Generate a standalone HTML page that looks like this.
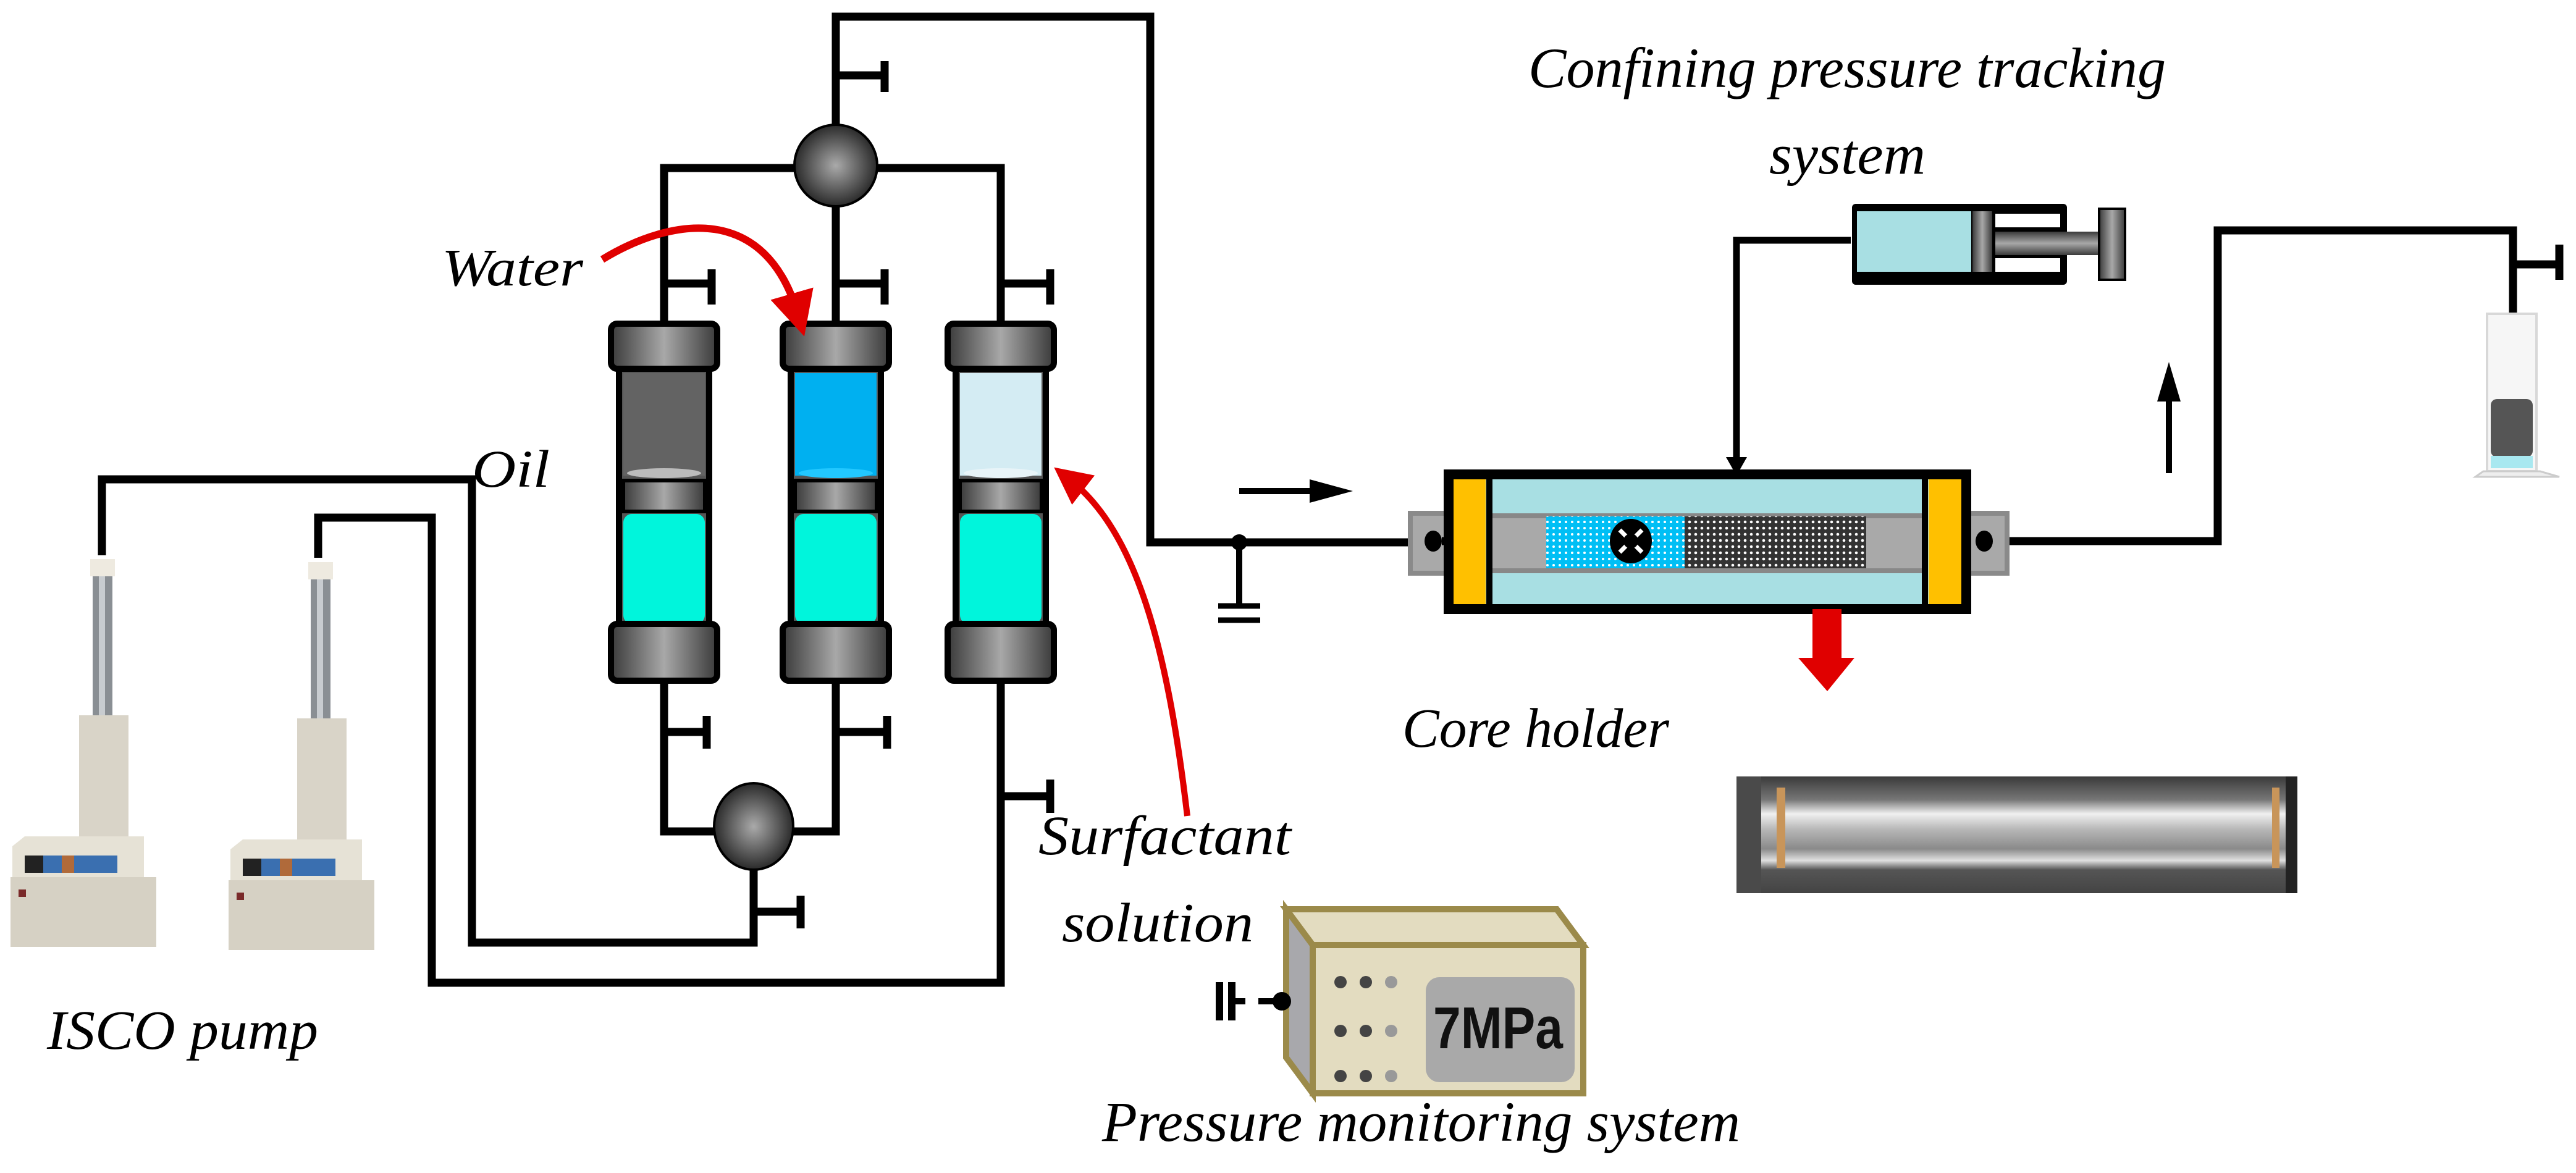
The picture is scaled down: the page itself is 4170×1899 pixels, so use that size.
<!DOCTYPE html>
<html><head><meta charset="utf-8"><style>html,body{margin:0;padding:0;background:#fff}svg{display:block}</style></head>
<body>
<svg width="4170" height="1899" viewBox="0 0 4170 1899" xmlns="http://www.w3.org/2000/svg">
<defs>
<linearGradient id="cap" x1="0" x2="1" y1="0" y2="0"><stop offset="0" stop-color="#3a3a3a"/><stop offset="0.5" stop-color="#a8a8a8"/><stop offset="1" stop-color="#3a3a3a"/></linearGradient>
<linearGradient id="capv" x1="0" x2="0" y1="0" y2="1"><stop offset="0" stop-color="#3a3a3a"/><stop offset="0.5" stop-color="#a8a8a8"/><stop offset="1" stop-color="#3a3a3a"/></linearGradient>
<radialGradient id="ball" cx="0.5" cy="0.5" r="0.5"><stop offset="0" stop-color="#aaa"/><stop offset="1" stop-color="#2a2a2a"/></radialGradient>
<pattern id="bdot" width="10" height="10" patternUnits="userSpaceOnUse"><rect width="10" height="10" fill="#00bff5"/><circle cx="5" cy="5" r="2" fill="#fff"/></pattern>
<pattern id="kdot" width="10" height="10" patternUnits="userSpaceOnUse"><rect width="10" height="10" fill="#333"/><circle cx="5" cy="5" r="2.3" fill="#fff"/></pattern>
<linearGradient id="photo" x1="0" x2="0" y1="0" y2="1"><stop offset="0" stop-color="#3a3a3a"/><stop offset="0.2" stop-color="#777"/><stop offset="0.32" stop-color="#f0f0f0"/><stop offset="0.45" stop-color="#b8b8b8"/><stop offset="0.62" stop-color="#8a8a8a"/><stop offset="0.72" stop-color="#e0e0e0"/><stop offset="0.8" stop-color="#555"/><stop offset="1" stop-color="#444"/></linearGradient>
<marker id="ra" markerWidth="6" markerHeight="6" refX="3" refY="3" orient="auto" markerUnits="strokeWidth"><path d="M0,0 L6,3 L0,6 z" fill="#e00000"/></marker>
</defs>

<g fill="none" stroke="#000" stroke-width="13" stroke-linejoin="miter">
<polyline points="1353,268 1353,27 1862,27 1862,878 2320,878"/>
<line x1="1353" y1="122" x2="1432" y2="122"/><line x1="1432" y1="99" x2="1432" y2="149"/>
<polyline points="1075,524 1075,272 1620,272 1620,524"/>
<line x1="1353" y1="272" x2="1353" y2="524"/>
<line x1="1075" y1="459" x2="1152" y2="459"/><line x1="1152" y1="436" x2="1152" y2="493"/>
<line x1="1353" y1="459" x2="1432" y2="459"/><line x1="1432" y1="436" x2="1432" y2="493"/>
<line x1="1620" y1="459" x2="1700" y2="459"/><line x1="1700" y1="436" x2="1700" y2="493"/>
<polyline points="1075,1102 1075,1346 1353,1346 1353,1102"/>
<line x1="1075" y1="1185" x2="1144" y2="1185"/><line x1="1144" y1="1159" x2="1144" y2="1212"/>
<line x1="1353" y1="1185" x2="1436" y2="1185"/><line x1="1436" y1="1159" x2="1436" y2="1212"/>
<polyline points="165,899 165,776 764,776 764,1526 1220,1526 1220,1338"/>
<line x1="1220" y1="1476" x2="1296" y2="1476"/><line x1="1296" y1="1450" x2="1296" y2="1503"/>
<polyline points="515,903 515,838 699,838 699,1591 1620,1591 1620,1102"/>
<line x1="1620" y1="1289" x2="1700" y2="1289"/><line x1="1700" y1="1262" x2="1700" y2="1316"/>
<polyline points="3212,876 3590,876 3590,373 4068,373 4068,508"/>
<line x1="4068" y1="428" x2="4143" y2="428"/><line x1="4143" y1="396" x2="4143" y2="453"/>
<polyline points="2996,389 2811,389 2811,745" stroke-width="11"/>
<line x1="2006" y1="878" x2="2006" y2="981" stroke-width="10"/>
<line x1="1972" y1="981" x2="2040" y2="981" stroke-width="9"/>
<line x1="1972" y1="1004" x2="2040" y2="1004" stroke-width="9"/>
<line x1="2006" y1="795" x2="2140" y2="795" stroke-width="10"/>
<line x1="3511" y1="766" x2="3511" y2="640" stroke-width="10"/>
</g>
<polygon points="2120,776 2190,795 2120,814" fill="#000"/>
<polygon points="3492,650 3511,586 3530,650" fill="#000"/>
<polygon points="2794,740 2828,740 2811,770" fill="#000"/>
<circle cx="2006" cy="878" r="13" fill="#000"/>

<ellipse cx="1353" cy="268" rx="67" ry="66" fill="url(#ball)" stroke="#000" stroke-width="4"/>
<ellipse cx="1220" cy="1338" rx="64" ry="70" fill="url(#ball)" stroke="#000" stroke-width="4"/>

<g>
<g transform="translate(1075,0)">
<rect x="-73" y="597" width="146" height="413" fill="#555" stroke="#000" stroke-width="10"/>
<rect x="-66" y="604" width="132" height="166" fill="#636363"/>
<ellipse cx="0" cy="766" rx="60" ry="8" fill="#bbb"/>
<rect x="-66" y="778" width="132" height="50" fill="url(#cap)" stroke="#000" stroke-width="6"/>
<rect x="-66" y="832" width="132" height="178" rx="14" fill="#00f5dc"/>
<rect x="-86" y="524" width="172" height="73" rx="10" fill="url(#cap)" stroke="#000" stroke-width="10"/>
<rect x="-86" y="1010" width="172" height="92" rx="10" fill="url(#cap)" stroke="#000" stroke-width="10"/>
</g>
<g transform="translate(1353,0)">
<rect x="-73" y="597" width="146" height="413" fill="#555" stroke="#000" stroke-width="10"/>
<rect x="-66" y="604" width="132" height="166" fill="#00b0f0"/>
<ellipse cx="0" cy="766" rx="60" ry="8" fill="#22c8ff"/>
<rect x="-66" y="778" width="132" height="50" fill="url(#cap)" stroke="#000" stroke-width="6"/>
<rect x="-66" y="832" width="132" height="178" rx="14" fill="#00f5dc"/>
<rect x="-86" y="524" width="172" height="73" rx="10" fill="url(#cap)" stroke="#000" stroke-width="10"/>
<rect x="-86" y="1010" width="172" height="92" rx="10" fill="url(#cap)" stroke="#000" stroke-width="10"/>
</g>
<g transform="translate(1620,0)">
<rect x="-73" y="597" width="146" height="413" fill="#555" stroke="#000" stroke-width="10"/>
<rect x="-66" y="604" width="132" height="166" fill="#d4ecf3"/>
<ellipse cx="0" cy="766" rx="60" ry="8" fill="#e8f4f8"/>
<rect x="-66" y="778" width="132" height="50" fill="url(#cap)" stroke="#000" stroke-width="6"/>
<rect x="-66" y="832" width="132" height="178" rx="14" fill="#00f5dc"/>
<rect x="-86" y="524" width="172" height="73" rx="10" fill="url(#cap)" stroke="#000" stroke-width="10"/>
<rect x="-86" y="1010" width="172" height="92" rx="10" fill="url(#cap)" stroke="#000" stroke-width="10"/>
</g>
</g>

<path d="M975,420 C1090,350 1240,330 1292,510" fill="none" stroke="#e00000" stroke-width="12" marker-end="url(#ra)"/>
<path d="M1922,1321 C1890,1050 1840,860 1730,775" fill="none" stroke="#e00000" stroke-width="10" marker-end="url(#ra)"/>

<rect x="2283" y="831" width="966" height="97" fill="#a9a9a9" stroke="#8a8a8a" stroke-width="8"/>
<rect x="2345" y="768" width="838" height="218" fill="#a8dfe3" stroke="#000" stroke-width="16"/>
<rect x="2411" y="831" width="705" height="97" fill="#a9a9a9"/>
<rect x="2411" y="831" width="705" height="8" fill="#888"/>
<rect x="2411" y="920" width="705" height="8" fill="#888"/>
<rect x="2503" y="836" width="224" height="84" fill="url(#bdot)"/>
<rect x="2727" y="836" width="294" height="84" fill="url(#kdot)"/>
<ellipse cx="2640" cy="876" rx="34" ry="36" fill="#000"/>
<g stroke="#fff" stroke-width="7"><line x1="2622" y1="858" x2="2658" y2="894"/><line x1="2658" y1="858" x2="2622" y2="894"/></g>
<circle cx="2640" cy="876" r="12" fill="#000"/>
<rect x="2353" y="776" width="52" height="202" fill="#ffc000"/>
<line x1="2411" y1="776" x2="2411" y2="978" stroke="#000" stroke-width="10"/>
<rect x="3122" y="776" width="53" height="202" fill="#ffc000"/>
<line x1="3116" y1="776" x2="3116" y2="978" stroke="#000" stroke-width="10"/>
<ellipse cx="2320" cy="876" rx="14" ry="17" fill="#000"/>
<ellipse cx="3212" cy="876" rx="14" ry="17" fill="#000"/>
<line x1="2334" y1="876" x2="2345" y2="876" stroke="#000" stroke-width="13"/>

<rect x="2998" y="330" width="348" height="131" rx="6" fill="#000"/>
<rect x="3006" y="342" width="185" height="98" fill="#a8dfe3"/>
<rect x="3193" y="342" width="32" height="98" fill="url(#cap)"/>
<rect x="3230" y="346" width="105" height="22" fill="#fff"/>
<rect x="3230" y="418" width="105" height="22" fill="#fff"/>
<rect x="3230" y="375" width="168" height="38" fill="url(#capv)"/>
<rect x="3398" y="338" width="42" height="115" fill="url(#cap)" stroke="#000" stroke-width="4"/>

<polygon points="2934,986 2981,986 2981,1065 3002,1065 2958,1119 2911,1065 2934,1065" fill="#e00000"/>

<rect x="2811" y="1257" width="908" height="189" fill="url(#photo)"/>
<rect x="2811" y="1257" width="40" height="189" fill="#4a4a4a"/>
<rect x="3700" y="1257" width="19" height="189" fill="#222"/>
<rect x="2876" y="1275" width="14" height="130" fill="#c8955a"/>
<rect x="3678" y="1275" width="12" height="130" fill="#c8955a"/>

<rect x="4026" y="508" width="80" height="255" fill="#f6f6f6" stroke="#d8d8d8" stroke-width="4"/>
<rect x="4032" y="646" width="68" height="94" rx="10" fill="#555"/>
<rect x="4032" y="738" width="68" height="20" fill="#a8e8f0"/>
<polygon points="4020,763 4112,763 4143,772 4007,772" fill="#eee" stroke="#ccc" stroke-width="3"/>

<polygon points="2082,1472 2520,1472 2563,1530 2125,1530" fill="#e3dcc0" stroke="#9b8a4a" stroke-width="10"/>
<polygon points="2082,1472 2125,1530 2125,1770 2082,1712" fill="#a8a8ac" stroke="#9b8a4a" stroke-width="10"/>
<rect x="2125" y="1530" width="438" height="240" fill="#e3dcc0" stroke="#9b8a4a" stroke-width="10"/>
<rect x="2308" y="1582" width="241" height="170" rx="22" fill="#a9a9a9"/>
<text x="2320" y="1697" font-family="Liberation Sans, sans-serif" font-weight="bold" font-size="96" fill="#111" textLength="210" lengthAdjust="spacingAndGlyphs">7MPa</text>
<g fill="#444"><circle cx="2170" cy="1590" r="10"/><circle cx="2211" cy="1590" r="10"/><circle cx="2252" cy="1590" r="10" fill="#999"/>
<circle cx="2170" cy="1669" r="10"/><circle cx="2211" cy="1669" r="10"/><circle cx="2252" cy="1669" r="10" fill="#999"/>
<circle cx="2170" cy="1742" r="10"/><circle cx="2211" cy="1742" r="10"/><circle cx="2252" cy="1742" r="10" fill="#999"/></g>
<circle cx="2075" cy="1621" r="15" fill="#000"/>
<line x1="2037" y1="1621" x2="2075" y2="1621" stroke="#000" stroke-width="10"/>
<line x1="1990" y1="1621" x2="2016" y2="1621" stroke="#000" stroke-width="10"/>
<rect x="1968" y="1590" width="12" height="62" fill="#000"/><rect x="1988" y="1590" width="12" height="62" fill="#000"/>

<g id="p1">
<rect x="150" y="921" width="32" height="240" fill="#8a8f94"/>
<rect x="160" y="921" width="10" height="240" fill="#c8ccd0"/>
<rect x="146" y="905" width="40" height="28" fill="#eeeae0"/>
<rect x="128" y="1158" width="80" height="200" fill="#d9d4c8"/>
<polygon points="20,1370 40,1354 233,1354 233,1420 20,1440" fill="#e6e2d6"/>
<rect x="40" y="1385" width="150" height="28" fill="#3a6fb0"/>
<rect x="40" y="1385" width="30" height="28" fill="#222"/>
<rect x="100" y="1385" width="20" height="28" fill="#b06a3a"/>
<rect x="17" y="1420" width="236" height="113" fill="#d6d1c4"/>
<rect x="30" y="1440" width="12" height="12" fill="#7a2a2a"/>
</g>
<use href="#p1" transform="translate(353,5)"/>

<g font-family="Liberation Serif, serif" font-style="italic" fill="#000">
<text x="2474" y="141" font-size="92" textLength="1032" lengthAdjust="spacingAndGlyphs">Confining pressure tracking</text>
<text x="2864" y="281" font-size="92" textLength="253" lengthAdjust="spacingAndGlyphs">system</text>
<text x="715" y="462" font-size="86" textLength="229" lengthAdjust="spacingAndGlyphs">Water</text>
<text x="764" y="788" font-size="86" textLength="126" lengthAdjust="spacingAndGlyphs">Oil</text>
<text x="1681" y="1383" font-size="90" textLength="409" lengthAdjust="spacingAndGlyphs">Surfactant</text>
<text x="1719" y="1524" font-size="90" textLength="310" lengthAdjust="spacingAndGlyphs">solution</text>
<text x="2270" y="1209" font-size="90" textLength="432" lengthAdjust="spacingAndGlyphs">Core holder</text>
<text x="76" y="1698" font-size="90" textLength="439" lengthAdjust="spacingAndGlyphs">ISCO pump</text>
<text x="1784" y="1847" font-size="92" textLength="1033" lengthAdjust="spacingAndGlyphs">Pressure monitoring system</text>
</g>
</svg>
</body></html>
